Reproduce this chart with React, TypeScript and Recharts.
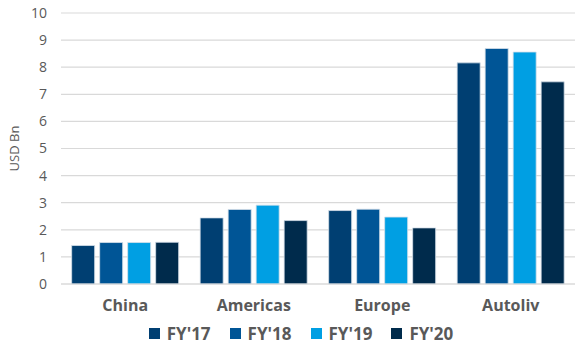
import React from 'react';
import { BarChart, Bar, XAxis, YAxis, CartesianGrid, Legend } from 'recharts';

const regions = ['China', 'Americas', 'Europe', 'Autoliv'];
const fy17 = [1.42, 2.44, 2.71, 8.16];
const fy18 = [1.53, 2.75, 2.76, 8.69];
const fy19 = [1.53, 2.91, 2.47, 8.56];
const fy20 = [1.54, 2.34, 2.07, 7.46];
const yTicks = [0, 1, 2, 3, 4, 5, 6, 7, 8, 9, 10];

const series = [
    { key: 'fy17', name: "FY'17", color: '#003f72' },
    { key: 'fy18', name: "FY'18", color: '#005596' },
    { key: 'fy19', name: "FY'19", color: '#009fe3' },
    { key: 'fy20', name: "FY'20", color: '#002b4c' },
];

const data = regions.map((region, i) => ({
    region,
    fy17: fy17[i],
    fy18: fy18[i],
    fy19: fy19[i],
    fy20: fy20[i],
}));

const font = '"Open Sans", Lato, sans-serif';

const LegendContent = () => (
    <div style={{ display: 'flex', justifyContent: 'center', paddingLeft: 46, paddingTop: 9, height: 21, fontFamily: font }}>
        {series.map((s) => (
            <div key={s.key} style={{ display: 'flex', alignItems: 'center', marginRight: 19, flexShrink: 0, whiteSpace: 'nowrap' }}>
                <span style={{ width: 11, height: 11, background: s.color, marginRight: 7 }} />
                <span style={{ fontSize: 17, fontWeight: 700, color: '#595959', lineHeight: '21px' }}>{s.name}</span>
            </div>
        ))}
    </div>
);

const App: React.FC = () => {
    return (
        <div style={{ position: 'absolute', left: 0, top: 0, background: '#fff' }}>
            <BarChart
                width={576}
                height={344}
                data={data}
                margin={{ top: 13, right: 1, left: 0, bottom: 0 }}
                barGap={5}
                barCategoryGap="8.3%"
            >
                <CartesianGrid vertical={false} stroke="#d9d9d9" strokeWidth={1.2} />
                <XAxis
                    dataKey="region"
                    height={30}
                    tickLine={false}
                    axisLine={{ stroke: '#d9d9d9', strokeWidth: 1.2 }}
                    tick={{ fill: '#595959', fontSize: 16, fontWeight: 700, fontFamily: font }}
                    tickMargin={10}
                />
                <YAxis
                    width={61}
                    domain={[0, 10]}
                    ticks={yTicks}
                    interval={0}
                    tickLine={false}
                    axisLine={false}
                    tickMargin={8}
                    tick={{ fill: '#595959', fontSize: 14, fontFamily: font }}
                    label={{
                        value: 'USD Bn',
                        angle: -90,
                        position: 'insideLeft',
                        offset: 14,
                        style: { textAnchor: 'middle', fill: '#595959', fontSize: 13, fontFamily: font },
                    }}
                />
                <Legend verticalAlign="bottom" height={30} content={<LegendContent />} />
                {series.map((s) => (
                    <Bar
                        key={s.key}
                        dataKey={s.key}
                        name={s.name}
                        fill={s.color}
                        stroke="#d6e0ea"
                        strokeWidth={0.8}
                        isAnimationActive={false}
                    />
                ))}
            </BarChart>
        </div>
    );
};

export default App;
